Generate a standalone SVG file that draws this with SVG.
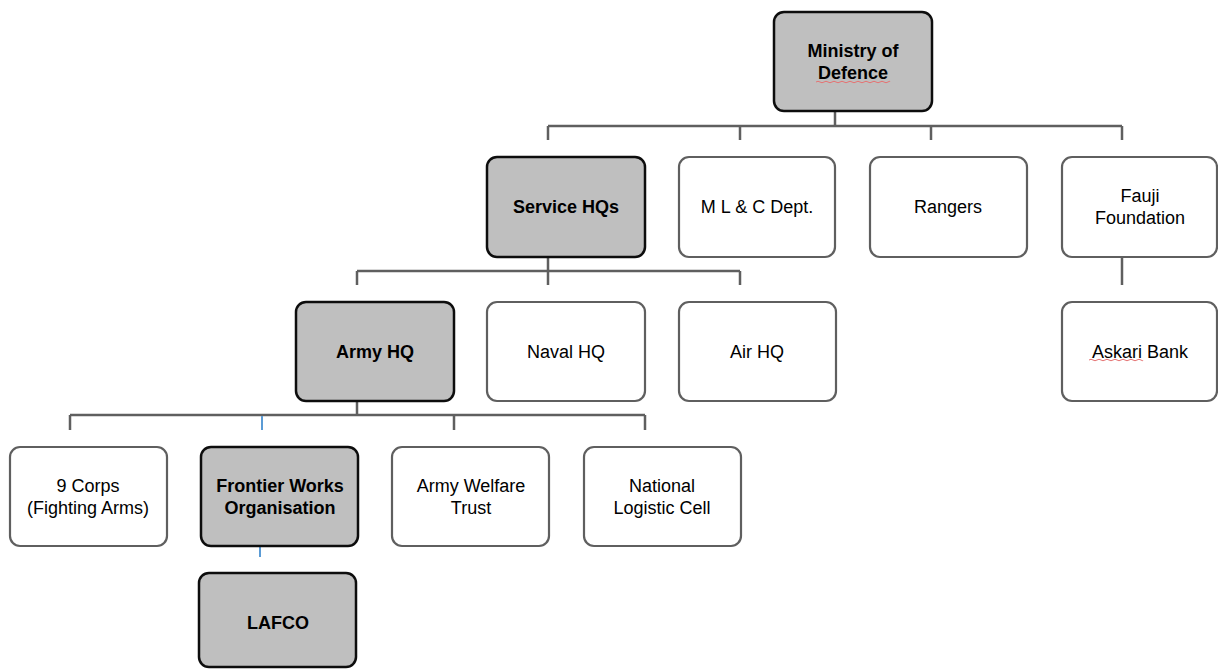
<svg xmlns="http://www.w3.org/2000/svg" width="1218" height="669" viewBox="0 0 1218 669">
<style>
.g rect{fill:#bfbfbf;stroke:#0d0d0d;stroke-width:2.5}
.w rect{fill:#fff;stroke:#5f5f5f;stroke-width:2.2}
text{font-family:"Liberation Sans",Arial,sans-serif;font-size:18px;fill:#000;text-anchor:middle}
.g text{font-weight:bold}
.c path{fill:none;stroke:#5f5f5f;stroke-width:2.5}
.c path.b{stroke:#5b9bd5;stroke-width:2}
.sq{fill:none;stroke:#e57373;stroke-width:1}
</style>
<rect width="1218" height="669" fill="#fff"/>
<g class="c" id="connectors">
<path d="M835 111V126M548 126H1122M548 126V140M740 126V140M931 126V140M1122 126V140"/>
<path d="M548 257V271M357 271H740M357 271V285M548 271V285M740 271V285"/>
<path d="M1122 257V285"/>
<path d="M357 401V415M70 415H645M70 415V430M454 415V430M645 415V430"/>
<path class="b" d="M262 416V430"/>
<path class="b" d="M260 547V557"/>
</g>
<g id="mod" class="g"><rect x="774" y="12" width="158" height="99" rx="10"/><text x="853" y="57">Ministry of</text><text x="853" y="79">Defence</text><path class="sq" d="M816 82q2 -1.5 4 0t4 0t4 0t4 0t4 0t4 0t4 0t4 0t4 0t4 0t4 0t4 0t4 0t4 0t4 0t4 0t4 0t4 0t2 0"/></g>
<g id="servicehqs" class="g"><rect x="487" y="157" width="158" height="100" rx="10"/><text x="566" y="213">Service HQs</text></g>
<g id="mlc" class="w"><rect x="679" y="157" width="156" height="100" rx="10"/><text x="757" y="213">M L &amp; C Dept.</text></g>
<g id="rangers" class="w"><rect x="870" y="157" width="157" height="100" rx="10"/><text x="948" y="213">Rangers</text></g>
<g id="fauji" class="w"><rect x="1062" y="157" width="155" height="100" rx="10"/><text x="1140" y="202">Fauji</text><text x="1140" y="224">Foundation</text></g>
<g id="armyhq" class="g"><rect x="296" y="302" width="158" height="99" rx="10"/><text x="375" y="358">Army HQ</text></g>
<g id="navalhq" class="w"><rect x="487" y="302" width="158" height="99" rx="10"/><text x="566" y="358">Naval HQ</text></g>
<g id="airhq" class="w"><rect x="679" y="302" width="157" height="99" rx="10"/><text x="757" y="358">Air HQ</text></g>
<g id="askari" class="w"><rect x="1062" y="302" width="155" height="99" rx="10"/><text x="1140" y="358">Askari Bank</text><path class="sq" d="M1089 360q2 -1.5 4 0t4 0t4 0t4 0t4 0t4 0t4 0t4 0t4 0t4 0t4 0t4 0t4 0t2 0"/></g>
<g id="corps" class="w"><rect x="10" y="447" width="157" height="99" rx="10"/><text x="88" y="492">9 Corps</text><text x="88" y="514">(Fighting Arms)</text></g>
<g id="fwo" class="g"><rect x="201" y="447" width="157" height="99" rx="10"/><text x="280" y="492">Frontier Works</text><text x="280" y="514">Organisation</text></g>
<g id="awt" class="w"><rect x="392" y="447" width="157" height="99" rx="10"/><text x="471" y="492">Army Welfare</text><text x="471" y="514">Trust</text></g>
<g id="nlc" class="w"><rect x="584" y="447" width="157" height="99" rx="10"/><text x="662" y="492">National</text><text x="662" y="514">Logistic Cell</text></g>
<g id="lafco" class="g"><rect x="199" y="573" width="157" height="94" rx="10"/><text x="278" y="629">LAFCO</text></g>
</svg>
